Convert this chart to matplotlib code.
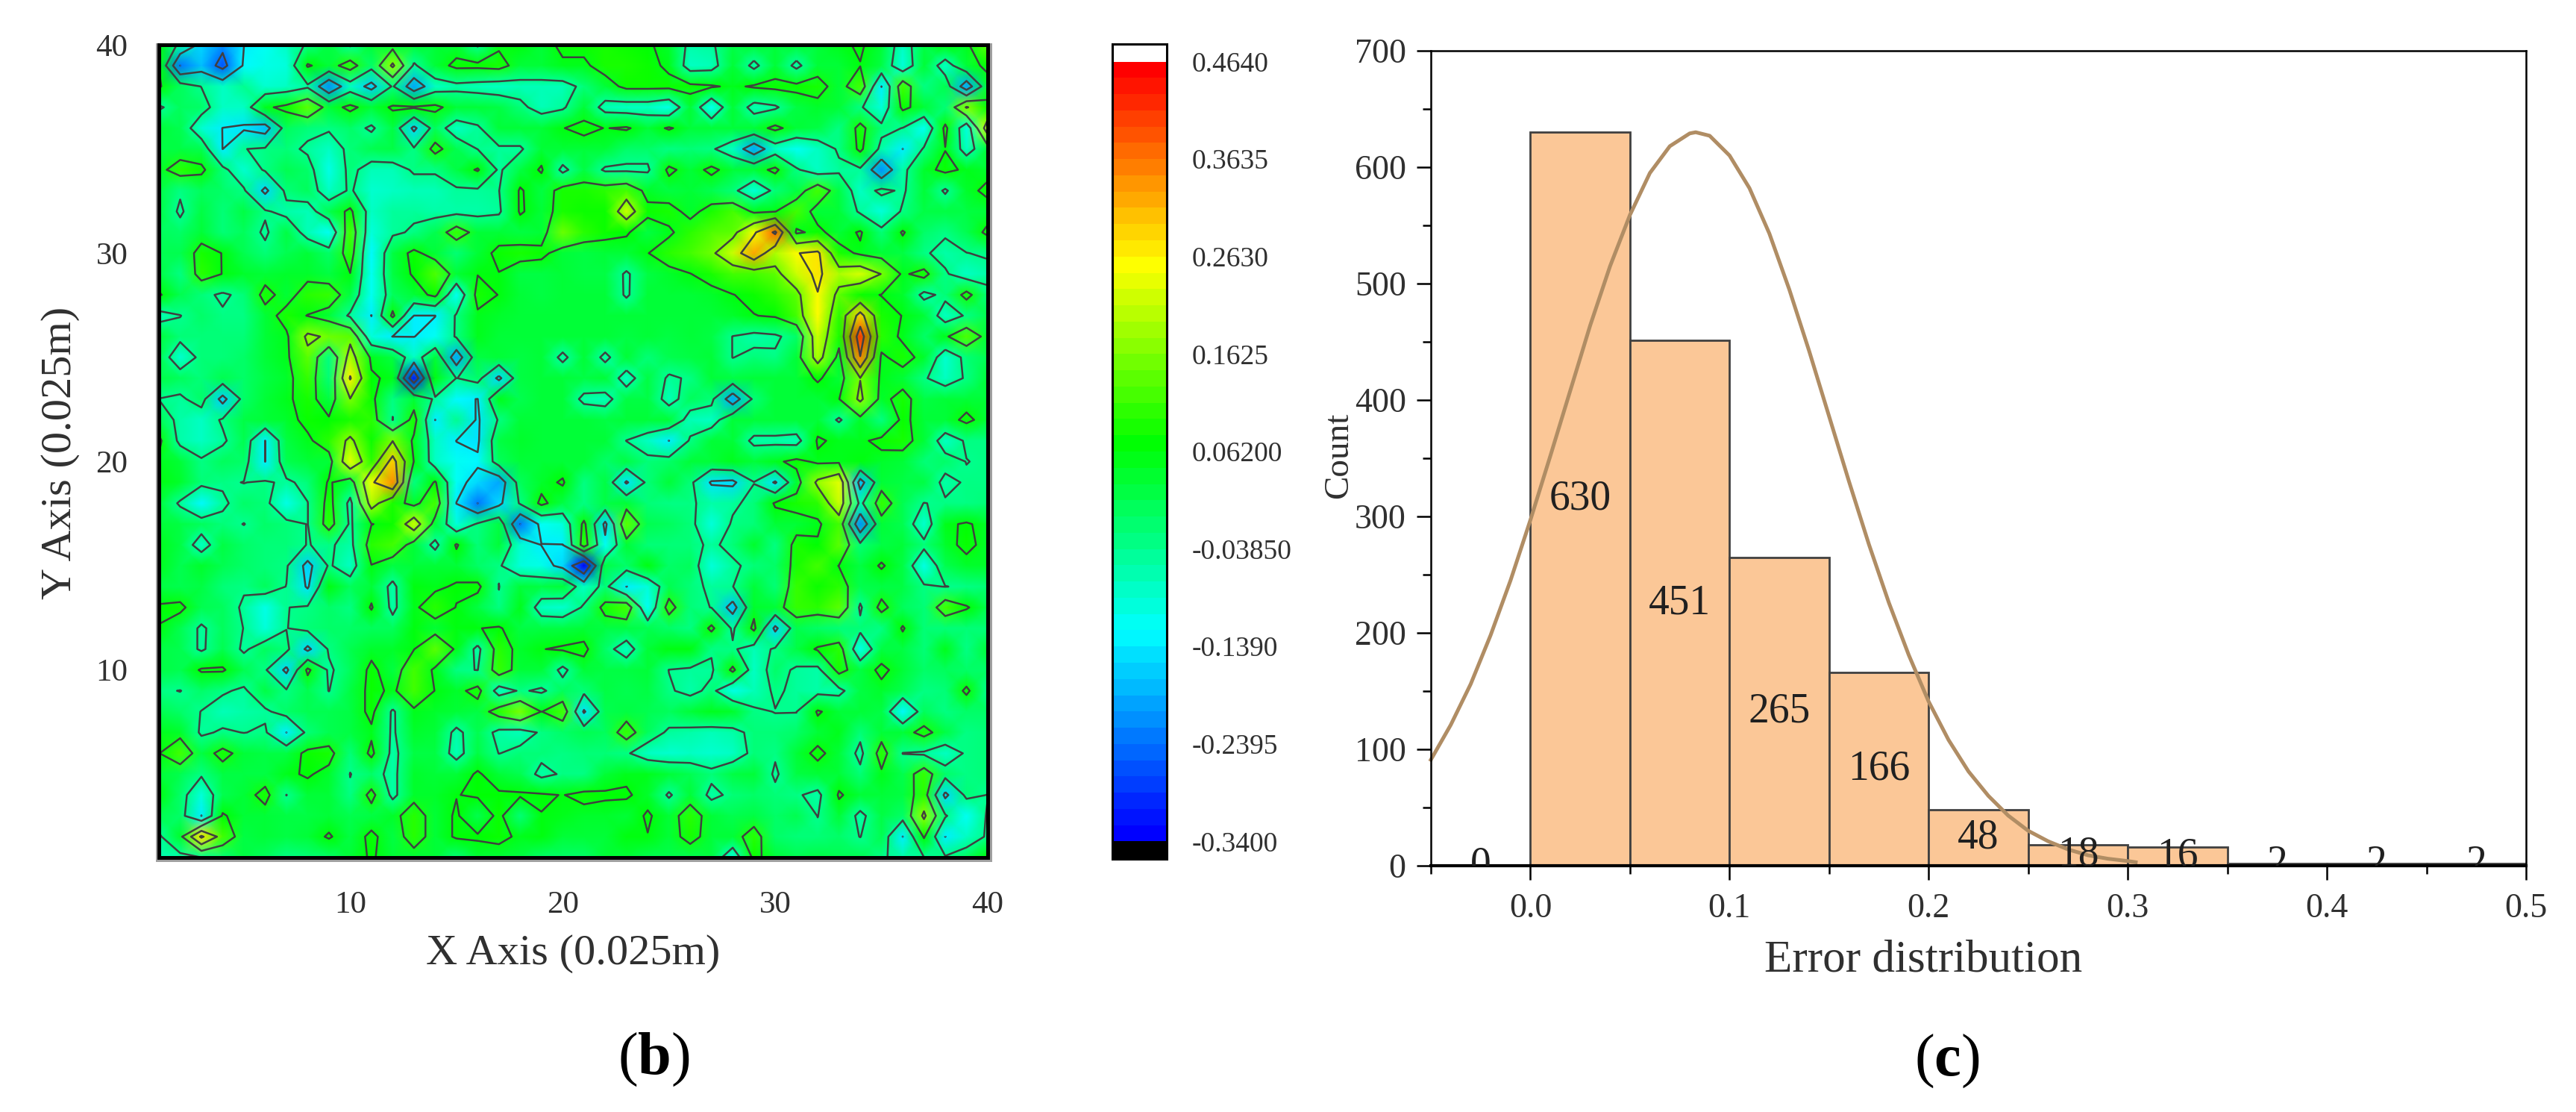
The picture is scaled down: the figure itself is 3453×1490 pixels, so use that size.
#!/usr/bin/env python3
"""Contour map of the error field (b) and histogram of the error distribution (c)."""

import matplotlib

matplotlib.use("Agg")
import matplotlib.pyplot as plt
import numpy as np
from matplotlib.cm import ScalarMappable
from matplotlib.colors import BoundaryNorm, LinearSegmentedColormap, ListedColormap
from matplotlib.patches import Rectangle

W, H = 3453, 1490

# ── Panel b data: field in hundredths, rows from y=40 down to y=1, x=1..40 ──
x_grid = list(range(1, 41))
y_grid = list(range(40, 0, -1))
field_rows = [
    [7, -6, -16, -22, -14, -12, -8, -3, 2, -5, 3, 3, 3, 3, 3, -5, 5, 6, 3, 8, 8, 9, 8, 7, 4, -6, -5, 2, 3, 3, 3, 3, 5, 7, 3, -8, 2, 6, 5, 14],
    [6, -24, -18, -27, -13, -11, -10, 7, 3, 10, -1, 18, -5, 3, 8, 8, 9, 3, 3, 5, 5, 9, 9, 8, 5, -8, -7, 3, -6, 3, -6, 3, 3, 6, 2, -10, 3, -8, 3, 8],
    [7, 0, -4, -8, -4, -9, -8, -5, -22, -8, -17, -3, -20, -8, -6, -7, -8, -7, -7, -7, -2, 3, 8, 8, 8, 8, 7, 5, 7, 8, 8, 9, 3, 12, -14, 12, -3, 1, -20, 3],
    [-5, 0, -1, -8, -8, 5, 8, 14, 3, 8, 3, 7, 7, 8, 3, 3, 2, -2, -7, -5, 3, -7, -8, -8, -11, 3, -12, 3, -7, -5, 2, 4, 3, -3, -10, 8, 3, -2, 17, 8],
    [3, 1, -9, -14, -15, -18, 0, -2, -3, -1, -5, 2, -16, 0, -8, -5, 3, 3, 3, 6, 8, 6, 7, 3, 7, 3, 3, 3, 3, 8, 3, 2, -3, 9, -2, -4, -12, 8, -10, 22],
    [2, 2, 1, -14, -4, -3, -2, -5, -8, -2, 1, 2, -3, 9, 1, -4, -5, -5, 3, 3, 3, 3, -1, -1, -3, -2, -3, -8, -20, -8, -12, -8, -3, 8, -6, -14, -3, 6, -8, 3],
    [4, 10, 8, -2, -9, -3, 1, -1, -11, -2, -7, -7, -3, -3, 2, 7, -5, 2, 7, -6, 2, -5, -5, -5, 8, 3, 8, 3, 3, 8, -3, -8, -5, -5, -22, -6, 4, 8, 5, 4],
    [2, -3, 0, -1, -3, -16, -2, 0, -8, -3, -9, -8, -7, -7, -5, -5, -4, 7, 2, 9, 9, 10, 12, 4, 2, 3, 1, -2, -10, -2, 2, 12, 2, -8, -2, -5, 3, -5, 4, 8],
    [2, -5, 2, -2, 2, -3, -6, -7, 1, 8, -8, -5, -5, -6, -6, -6, -5, 7, 3, 9, 8, 8, 22, 8, 9, 4, 9, 12, 5, 6, 12, 3, 3, -5, -10, -3, 2, 2, 2, 3],
    [0, -1, 3, -2, 0, -5, 2, -7, -12, 12, -10, -5, -3, 1, 11, 3, 3, 2, 3, 15, 10, 8, 7, 2, 5, 10, 13, 14, 25, 38, 5, 8, 3, 7, -2, 7, -1, -3, 1, 8],
    [1, 1, 9, 6, 1, -2, 1, 3, -1, 10, -13, 2, 8, 3, -2, 3, 8, 9, 8, 3, 2, 3, 3, 6, 10, 12, 15, 22, 33, 20, 26, 28, 9, 5, 3, 2, -3, -6, -4, -3],
    [2, -3, 10, 6, 4, 3, 4, 4, 2, 6, -12, 2, 7, 13, 3, 6, 6, 2, 2, 3, 2, 2, -5, 2, 4, 6, 9, 12, 12, 14, 22, 28, 20, 23, 16, 5, 9, -3, -8, -6],
    [7, 1, -2, -5, -2, 9, 3, 10, 11, 2, -12, 0, 3, 8, -12, 9, 6, 3, 2, 3, 3, 3, -5, 3, 3, 3, 4, 6, 8, 10, 14, 26, 14, 8, 6, 4, -6, -2, 9, -2],
    [-7, -4, -1, -3, -3, 3, 9, 6, 3, -5, -14, 8, -14, -14, -3, 5, 4, 3, 3, 3, 3, 3, 3, 3, 3, 3, 3, 4, 6, 7, 12, 26, 10, 30, 9, 6, 3, -8, -3, 1],
    [3, -2, -2, -2, -2, 3, 5, 18, 15, 14, -10, -14, -14, -12, -3, 5, 3, 3, 3, 3, 3, 3, 2, 3, 2, 3, 2, -4, -6, -5, -1, 22, 9, 42, 10, 5, -1, 5, 13, 3],
    [1, -9, -2, -2, -1, 3, 5, 14, -3, 20, 5, 2, -8, 3, -20, 2, 3, 2, 3, -6, 3, -6, 3, -2, 1, 2, 3, -4, -2, -3, 3, 20, 4, 36, 5, 9, 4, -9, -2, 1],
    [2, 0, -2, 1, -1, 2, 4, 11, -2, 27, 7, 5, -32, 6, -4, -1, -16, 2, 3, 3, 2, 3, -8, 2, -5, -3, 3, 2, 3, 3, 3, 7, 3, 16, 5, 3, -3, -8, -3, 3],
    [-4, -5, -1, -17, -1, 3, 5, 9, 2, 16, 8, -3, 3, -5, -13, -14, 5, 1, 3, 3, -6, -7, 2, 2, -7, 0, -2, -20, -2, 3, 3, 3, 6, 18, 4, 9, 2, 3, 3, 3],
    [1, -6, -8, -3, 2, 3, 4, 8, 7, 9, 10, -4, 9, -14, -4, -15, -3, 3, 3, 3, 3, 2, 3, 3, 3, -7, -8, 3, 3, 3, 3, 3, -5, 4, -3, 8, 3, 3, 8, 3],
    [8, -6, -8, -5, 1, -14, 2, 5, 10, 18, 8, 16, 5, -8, -14, -15, 2, 4, 3, 3, 3, 3, -4, -8, -14, -3, 3, 3, -6, -6, -7, 7, 5, 5, 8, 9, 3, -8, -3, -3],
    [5, 3, -3, 0, -1, -14, 1, 3, 3, 24, 10, 30, 6, -8, -12, -13, 0, 3, 3, 3, 3, -1, 2, -2, -1, 3, 3, 5, 3, 5, 8, 5, 5, 6, 4, 3, -2, -1, -4, -3],
    [6, 4, -2, -3, -4, -3, -5, -2, 7, 2, 25, 35, -3, 7, -12, -16, -20, 0, 4, 7, -3, 2, -15, -2, 3, -2, -15, -16, -4, -15, 3, 18, 24, -18, 3, 2, 2, -6, -3, -3],
    [3, -5, -13, -5, -1, -2, -11, -4, 9, -6, 20, 9, 4, 12, -14, -24, -16, -3, 8, 2, -3, 2, 3, -2, -3, -3, -6, -5, -2, 7, 9, 10, 22, -6, 11, 1, -4, -3, -3, -2],
    [3, 2, 0, -2, -4, -1, -2, -4, 10, -5, 6, 8, 22, 3, -10, -3, 2, -24, -12, -10, 8, -16, 14, 1, 0, -2, -10, -3, -2, 3, 3, 5, 12, -22, 3, 1, -9, 5, 7, 4],
    [5, 2, -8, 2, -1, -2, -2, -4, -3, -6, 10, 12, 3, -6, 7, -2, 3, -9, -14, -14, 10, -12, 3, -2, -2, -2, -5, -2, 4, -3, 9, 7, 14, -2, 2, 3, -2, 4, 8, 4],
    [5, 1, 4, 1, -1, -2, -3, -17, -3, -8, 6, 2, 3, 3, 3, -1, -3, -10, -11, -16, -34, 2, -1, 6, -1, 0, -10, -5, -2, -1, 9, 12, 6, 2, 7, 2, -11, 1, 4, 4],
    [2, 1, 2, -2, -3, 0, -4, -15, 6, 0, 3, -6, 6, 5, 7, 8, -4, 3, 2, 3, -8, -2, -14, -10, 1, -2, -5, -4, 3, -2, 11, 8, 10, 1, 2, 2, -3, -4, -3, -2],
    [7, 8, 1, 0, -5, -11, -4, -3, -1, -3, 7, -6, 5, 10, 6, 2, -3, 5, -8, -9, -3, 9, 12, -12, 10, -2, -4, -18, 4, 3, 11, 10, 14, -5, 9, 0, -2, 12, 7, 1],
    [6, 1, -5, 0, -4, -10, -4, -2, -1, -1, 0, 0, 6, 3, 6, 6, 7, 2, 2, 2, 3, 2, 2, 1, -1, -3, 8, -5, 8, -16, 1, -1, -2, -2, -3, 7, -2, -2, -2, -2],
    [2, 1, -5, 1, -5, 0, -2, -16, -3, 1, 4, 4, 6, 14, 5, -6, 10, 4, 6, 7, 8, -1, -8, 3, 6, 6, -3, -3, -7, -3, 2, 7, 10, -11, 2, 2, -2, 5, -3, 3],
    [2, 1, 7, 7, 1, -3, -16, 8, -5, 0, 8, 2, 12, 5, -3, -4, 11, 3, 3, -6, 3, 2, 2, 3, -4, -5, -5, 8, -8, -1, -5, -6, 9, 2, 8, 3, -1, 0, -1, -1],
    [-3, -4, -1, -3, -5, 2, -3, 1, -4, 2, 8, 5, 12, 6, 4, 9, -8, -3, -5, 0, -2, 2, 1, 2, -3, -6, -2, -11, -7, -3, -5, -6, -6, 2, 4, 1, -3, -2, 8, -4],
    [1, -1, -4, -7, -6, -5, -1, 1, 1, 2, 8, -5, 5, 4, 3, 2, 10, 16, 6, 12, -15, 1, 2, 1, 0, 3, 5, 4, -3, -4, -4, 7, 3, 3, 2, -13, 0, -3, -1, -1],
    [5, 4, -5, -3, -4, -3, -14, -2, 1, 2, 5, -5, 4, 3, -6, 1, -6, -7, -3, -1, 1, 0, 11, 0, -5, -6, -7, -6, -2, -2, -1, 3, 5, -2, 3, 3, 9, 2, -3, -2],
    [6, 12, 2, 9, 3, 2, 2, 8, 9, -2, 8, -6, 2, 2, -7, 2, -4, -2, -2, -3, -2, -2, -3, -8, -9, -8, -9, -8, -2, -3, 3, 8, 3, -6, 10, -4, -5, -8, -3, -2],
    [3, 1, -3, 2, 2, 2, 5, 7, 4, -4, -1, -6, 4, 3, 3, 7, 3, 1, -6, -3, -3, 3, 5, 5, 3, 1, -2, 2, 3, -5, 2, 3, 3, -2, 5, 1, 11, -1, -3, -2],
    [6, -1, -10, 1, 3, 9, -4, 3, 3, -3, 9, -6, 4, 4, 6, 7, 7, 7, 7, 6, 8, 7, 7, 4, -5, 3, -6, -2, -1, -2, -3, -6, 7, 3, 3, 2, 10, -16, -2, -4],
    [1, -1, -14, 7, 3, 3, 2, 2, 3, 1, 2, 4, 10, 3, 7, 1, 8, -2, 6, 5, 4, 4, 3, 7, 3, 10, 3, 1, 2, -1, 1, -4, 3, -6, 2, -1, 18, -3, -12, -3],
    [-5, 4, 28, 12, 2, 3, 2, 3, 7, 2, 8, 2, 10, 3, 7, 7, 8, 5, 6, 3, 3, 3, 6, 6, 3, 9, 3, 3, 10, -1, -2, -2, -1, -4, 1, -14, 7, -14, -8, -3],
    [-7, -6, -4, -2, 2, 0, -3, -2, -1, 3, 7, 3, 3, 3, -2, 3, 3, 2, -1, -1, -1, 3, 3, 1, 1, 1, 2, -10, 8, 3, 1, 2, 1, 1, -3, -6, -4, -3, 0, 7],
]
contour_levels = [-0.3400, -0.2395, -0.1390, -0.0385, 0.0620, 0.1625, 0.2630, 0.3635, 0.4640]
contour_labels = ["-0.3400", "-0.2395", "-0.1390", "-0.03850", "0.06200", "0.1625", "0.2630", "0.3635", "0.4640"]
map_ticks = [10, 20, 30, 40]

# ── Panel c data ──
bin_left = [-0.05, 0.0, 0.05, 0.10, 0.15, 0.20, 0.25, 0.30, 0.35, 0.40, 0.45]
bin_count = [0, 630, 451, 265, 166, 48, 18, 16, 2, 2, 2]
curve_x = [-0.05, -0.04, -0.03, -0.02, -0.01, 0.0, 0.01, 0.02, 0.03, 0.04, 0.05, 0.06, 0.07, 0.08, 0.083,
           0.09, 0.10, 0.11, 0.12, 0.13, 0.14, 0.15, 0.16, 0.17, 0.18, 0.19, 0.20, 0.21, 0.22, 0.23, 0.24,
           0.25, 0.26, 0.27, 0.28, 0.29, 0.30, 0.304]
curve_y = [91, 121, 156, 198, 245, 297, 352, 408, 464, 515, 559, 595, 618, 629, 630,
           627, 610, 582, 543, 495, 442, 386, 330, 276, 226, 181, 141, 108, 81, 60, 43,
           30, 21, 14, 9, 6, 4, 3]
hist_xticks = [0.0, 0.1, 0.2, 0.3, 0.4, 0.5]
hist_yticks = [0, 100, 200, 300, 400, 500, 600, 700]

SERIF = "Liberation Serif"
LINE = "#404040"
TEXT = "#303030"


def axes_px(fig, left, top, right, bottom):
    """Axes from pixel box of the 3453x1490 picture."""
    return fig.add_axes([left / W, 1 - bottom / H, (right - left) / W, (bottom - top) / H])


def draw_map(fig):
    ax = axes_px(fig, 213, 60, 1324, 1149)
    field = np.array(field_rows) / 100.0

    nodes = [(-0.34, "#0000ff"), (-0.128, "#00ffff"), (0.072, "#00ff00"), (0.26, "#ffff00"), (0.464, "#ff0000")]
    cmap = LinearSegmentedColormap.from_list(
        "map", [((v + 0.34) / 0.804, c) for v, c in nodes], N=256
    )
    ax.pcolormesh(x_grid, y_grid, field, cmap=cmap, vmin=-0.34, vmax=0.464, shading="gouraud")
    ax.contour(x_grid, y_grid, field, levels=contour_levels, colors=LINE, linewidths=1.8,
               negative_linestyles="solid")

    ax.set_xlim(1, 40)
    ax.set_ylim(1, 40)
    ax.set_xticks(map_ticks)
    ax.set_yticks(map_ticks)
    ax.tick_params(length=0, labelsize=31, labelcolor=TEXT)
    ax.tick_params(axis="x", pad=32)
    ax.tick_params(axis="y", pad=30)
    for spine in ax.spines.values():
        spine.set_linewidth(3.6)
        spine.set_color("black")

    # thin gray shadow under the frame
    fig.add_artist(
        Rectangle(
            (209 / W, 1 - 1155 / H), 1121 / W, 1097 / H,
            transform=fig.transFigure, facecolor="#a0a0a0", edgecolor="none", zorder=-1,
        )
    )

    fig.text(768 / W, 1 - 1278 / H, "X Axis (0.025m)", fontsize=42, color=TEXT, ha="center", va="center")
    fig.text(81 / W, 1 - 607 / H, "Y Axis (0.025m)", fontsize=42, color=TEXT, ha="center", va="center", rotation=90)
    fig.text(876 / W, 1 - 1420 / H, r"$\mathrm{(}\mathbf{b}\mathrm{)}$", fontsize=58, ha="center", va="center")

    # colour scale: 48 flat bands with white / black end caps inside the box
    cax = axes_px(fig, 1491, 59, 1564, 1151)
    boundaries = np.linspace(-0.34, 0.464, 49)
    band_cmap = ListedColormap(cmap(np.linspace(0, 1, 48)))
    band_cmap.set_over("white")
    band_cmap.set_under("black")
    sm = ScalarMappable(norm=BoundaryNorm(boundaries, 48), cmap=band_cmap)
    cb = fig.colorbar(sm, cax=cax, extend="both", extendrect=True, extendfrac=0.0225, spacing="proportional")
    cb.set_ticks(contour_levels)
    cb.set_ticklabels(contour_labels)
    cb.minorticks_off()
    cb.ax.tick_params(length=0, labelsize=27, pad=24, labelcolor=TEXT)
    cb.outline.set_linewidth(2.2)
    cb.outline.set_edgecolor("black")


def draw_hist(fig):
    ax = axes_px(fig, 1918, 68, 3386, 1160)
    ax.bar(bin_left, bin_count, width=0.05, align="edge", facecolor="#fbc797", edgecolor=LINE, linewidth=2.0)
    ax.plot(curve_x, curve_y, color="#b08d64", linewidth=3.6, clip_on=False, solid_joinstyle="round")

    for left, count in zip(bin_left, bin_count):
        ax.text(left + 0.025, count / 2, str(count), fontsize=40, color="#202020",
                ha="center", va="center", clip_on=True)

    ax.set_xlim(-0.05, 0.5)
    ax.set_ylim(0, 700)
    ax.set_xticks(hist_xticks)
    ax.set_xticklabels([f"{v:.1f}" for v in hist_xticks])
    ax.set_yticks(hist_yticks)
    ax.set_xticks([-0.05, 0.05, 0.15, 0.25, 0.35, 0.45], minor=True)
    ax.set_yticks([50, 150, 250, 350, 450, 550, 650], minor=True)
    ax.tick_params(which="major", length=14, width=1.8, labelsize=33, labelcolor=TEXT)
    ax.tick_params(which="minor", length=8, width=1.8)
    ax.tick_params(axis="x", which="major", pad=12)
    ax.tick_params(axis="y", which="major", pad=10)
    for spine in ax.spines.values():
        spine.set_linewidth(1.8)
    ax.spines["bottom"].set_linewidth(3)

    fig.text(2578 / W, 1 - 1287 / H, "Error distribution", fontsize=44, color=TEXT, ha="center", va="center")
    fig.text(1795 / W, 1 - 610 / H, "Count", fontsize=34, color=TEXT, ha="center", va="center", rotation=90)
    fig.text(2610 / W, 1 - 1422 / H, r"$\mathrm{(}\mathbf{c}\mathrm{)}$", fontsize=58, ha="center", va="center")


def main():
    plt.rcParams["font.family"] = [SERIF, "DejaVu Serif"]
    plt.rcParams["mathtext.fontset"] = "custom"
    plt.rcParams["mathtext.rm"] = SERIF
    plt.rcParams["mathtext.bf"] = SERIF + ":bold"
    plt.rcParams["axes.unicode_minus"] = False

    fig = plt.figure(figsize=(W / 100, H / 100), dpi=100, facecolor="white")
    draw_map(fig)
    draw_hist(fig)
    fig.savefig("out.png", dpi=100)
    plt.close(fig)


if __name__ == "__main__":
    main()
